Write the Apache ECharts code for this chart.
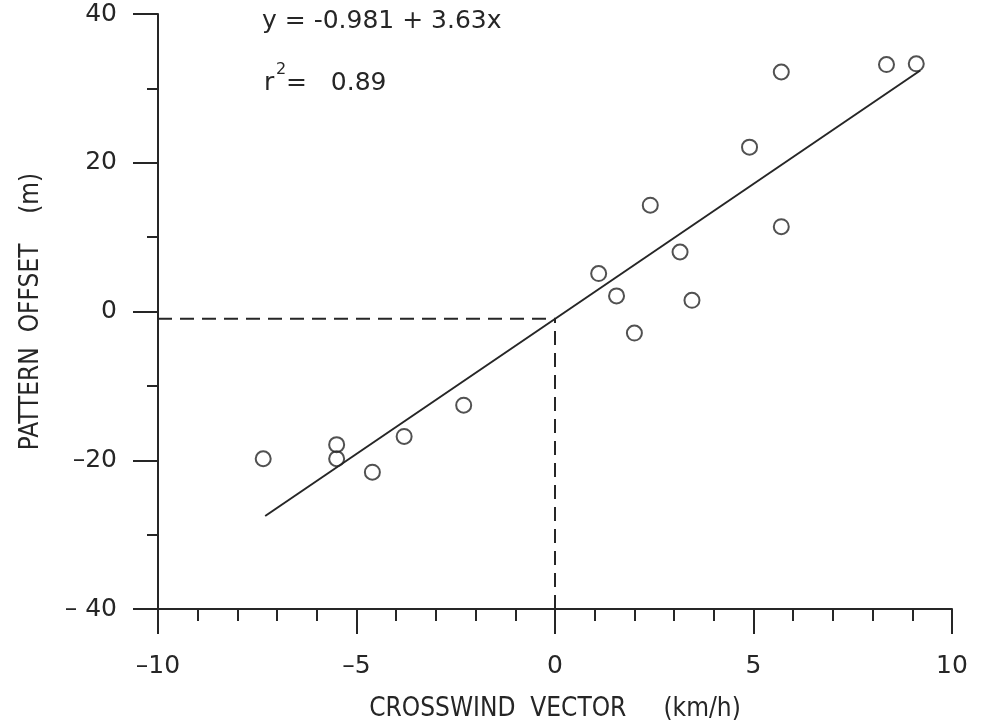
<!DOCTYPE html>
<html>
<head>
<meta charset="utf-8">
<style>
  html, body { margin: 0; padding: 0; background: #fff; }
  #chart { width: 985px; height: 726px; }
</style>
<script src="https://cdn.jsdelivr.net/npm/echarts@6/dist/echarts.min.js"></script>
</head>
<body>
<div id="chart"></div>
<script>
// Values (crosswind km/h vs pattern offset m).
var WIND   = [-7.35, -5.5, -5.5, -4.6, -3.8, -2.3, 1.1, 1.55, 2.0, 2.4, 3.15, 3.45, 4.9, 5.7, 5.7, 8.35, 9.1];
var OFFSET = [-19.8, -17.9, -19.8, -21.6, -16.8, -12.6, 5.1, 2.1, -2.9, 14.3, 8.0, 1.5, 22.1, 32.2, 11.4, 33.2, 33.3];
// fitted line ends, and the dashed guides to the intercept
var FIT_LINE = [[-7.3, -27.5], [9.2, 32.4]];
var GUIDE_H  = [[-10, -0.98], [0, -0.98]];
var GUIDE_V  = [[0, -40], [0, -0.98]];
var X_TICKS = { "-10": "\u201310", "-5": "\u20135", "0": "0", "5": "5", "10": "10" };
var Y_TICKS = { "40": "40", "20": "20", "0": "0", "-20": "\u201320", "-40": "\u2013 40" };
var EQUATION = "y = -0.981 + 3.63x";
var R2 = "0.89";

(function () {
  var INK = "#262626";
  var TICK_FONT = "DejaVu Sans";
  var TITLE_FONT = "DejaVu Sans Condensed";

  var pts = WIND.map(function (x, i) { return [x, OFFSET[i]]; });

  function axisCommon(extra) {
    var base = {
      type: "value",
      nameLocation: "middle",
      nameMoveOverlap: false,
      nameTextStyle: { fontFamily: TITLE_FONT, fontSize: 26, color: INK },
      axisLine: { onZero: false, lineStyle: { color: INK, width: 2 } },
      axisTick: { length: 25, lineStyle: { color: INK, width: 2 } },
      splitLine: { show: false }
    };
    for (var k in extra) base[k] = extra[k];
    return base;
  }

  var chart = echarts.init(document.getElementById("chart"));
  chart.setOption({
    animation: false,
    backgroundColor: "#fff",
    grid: { left: 158, right: 33, top: 14, bottom: 117, outerBoundsMode: "none" },
    xAxis: axisCommon({
      min: -10, max: 10, interval: 5,
      name: "CROSSWIND  VECTOR     (km/h)", nameGap: 87,
      minorTick: { show: true, splitNumber: 5, length: 12, lineStyle: { color: INK, width: 2 } },
      axisLabel: {
        margin: 45, fontFamily: TICK_FONT, fontSize: 25, color: INK,
        formatter: function (v) { return X_TICKS[v]; }
      }
    }),
    yAxis: axisCommon({
      min: -40, max: 40, interval: 20,
      name: "PATTERN  OFFSET    (m)", nameGap: 114, nameRotate: 90,
      minorTick: { show: true, splitNumber: 2, length: 11, lineStyle: { color: INK, width: 2 } },
      axisLabel: {
        margin: 41, fontFamily: TICK_FONT, fontSize: 25, color: INK,
        formatter: function (v) { return Y_TICKS[v]; }
      }
    }),
    series: [
      {
        type: "line", data: FIT_LINE, symbol: "none", silent: true,
        lineStyle: { color: INK, width: 2 }
      },
      {
        type: "line", data: GUIDE_H, symbol: "none", silent: true,
        lineStyle: { color: INK, width: 2, type: [14, 8] }
      },
      {
        type: "line", data: GUIDE_V, symbol: "none", silent: true,
        lineStyle: { color: INK, width: 2, type: [14, 8] }
      },
      {
        type: "scatter", data: pts, symbol: "circle", symbolSize: 15, z: 5,
        itemStyle: { color: "rgba(0,0,0,0)", borderColor: INK, borderWidth: 2 }
      }
    ],
    graphic: [
      { type: "text", left: 262, top: 9,
        style: { text: EQUATION, font: "25px " + TICK_FONT, fill: INK } },
      { type: "text", left: 264, top: 71,
        style: { text: "r", font: "25px " + TICK_FONT, fill: INK } },
      { type: "text", left: 276, top: 62,
        style: { text: "2", font: "16px " + TICK_FONT, fill: INK } },
      { type: "text", left: 286, top: 71,
        style: { text: "=   " + R2, font: "25px " + TICK_FONT, fill: INK } }
    ]
  });
})();
</script>
</body>
</html>
